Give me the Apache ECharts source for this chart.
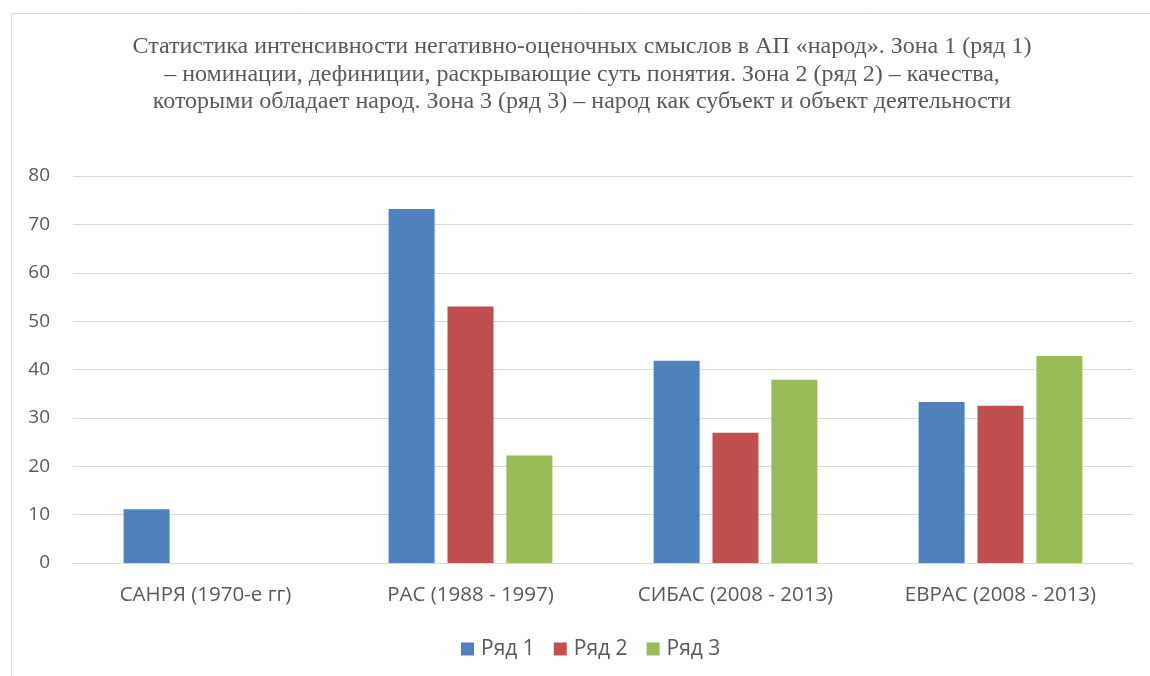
<!DOCTYPE html>
<html><head><meta charset="utf-8">
<script src="https://cdn.jsdelivr.net/npm/echarts@6/dist/echarts.min.js"></script>
<style>html,body{margin:0;padding:0;background:#fff}#c{width:1150px;height:676px}</style>
</head><body><div id="c"></div>
<script>
const categories = ['САНРЯ (1970-е гг)', 'РАС (1988 - 1997)', 'СИБАС (2008 - 2013)', 'ЕВРАС (2008 - 2013)'];
const series1 = [11.1, 73.2, 41.8, 33.3];
const series2 = [null, 53.0, 26.9, 32.5];
const series3 = [null, 22.2, 37.9, 42.8];
const seriesNames = ['Ряд 1', 'Ряд 2', 'Ряд 3'];
const colors = ['#4f81bd', '#c0504d', '#9bbb59'];
const titleText = 'Статистика интенсивности негативно-оценочных смыслов в АП «народ». Зона 1 (ряд 1)\n– номинации, дефиниции, раскрывающие суть понятия. Зона 2 (ряд 2) – качества,\nкоторыми обладает народ. Зона 3 (ряд 3) – народ как субъект и объект деятельности';

const chart = echarts.init(document.getElementById('c'));
const font = 'Open Sans';
chart.setOption({
  animation: false,
  color: colors,
  graphic: [{type:'rect', shape:{x:11.5,y:13.5,width:1200,height:700}, style:{fill:'none', stroke:'#d9d9d9', lineWidth:1}, silent:true}],
  title: {
    text: titleText, left: 577, top: 28, textAlign: 'center',
    textStyle: {fontFamily: 'Liberation Serif', fontSize: 24, fontWeight: 'normal', color: '#595959', lineHeight: 27.5}
  },
  legend: {
    data: seriesNames, top: 633, left: 456, padding: 5, itemWidth: 13, itemHeight: 13, itemGap: 19,
    icon: 'rect',
    textStyle: {fontFamily: font, fontSize: 21, lineHeight: 22, color: '#595959', padding: [0, 0, 0, 2]}
  },
  grid: {left: 73, right: 17, top: 176, bottom: 113},
  xAxis: {
    type: 'category', data: categories,
    axisLine: {lineStyle: {color: '#d9d9d9', width: 1}},
    axisTick: {show: false},
    axisLabel: {fontFamily: font, fontSize: 20.5, color: '#595959', margin: 22}
  },
  yAxis: {
    type: 'value', min: 0, max: 80, interval: 10,
    axisLine: {show: false}, axisTick: {show: false},
    splitLine: {lineStyle: {color: '#d9d9d9', width: 1}},
    axisLabel: {fontFamily: font, fontSize: 19, color: '#595959', margin: 23}
  },
  series: [
    {name: seriesNames[0], type: 'bar', data: series1, barWidth: 46, barGap: '28%'},
    {name: seriesNames[1], type: 'bar', data: series2, barWidth: 46, barGap: '28%'},
    {name: seriesNames[2], type: 'bar', data: series3, barWidth: 46, barGap: '28%'}
  ]
});
</script></body></html>
